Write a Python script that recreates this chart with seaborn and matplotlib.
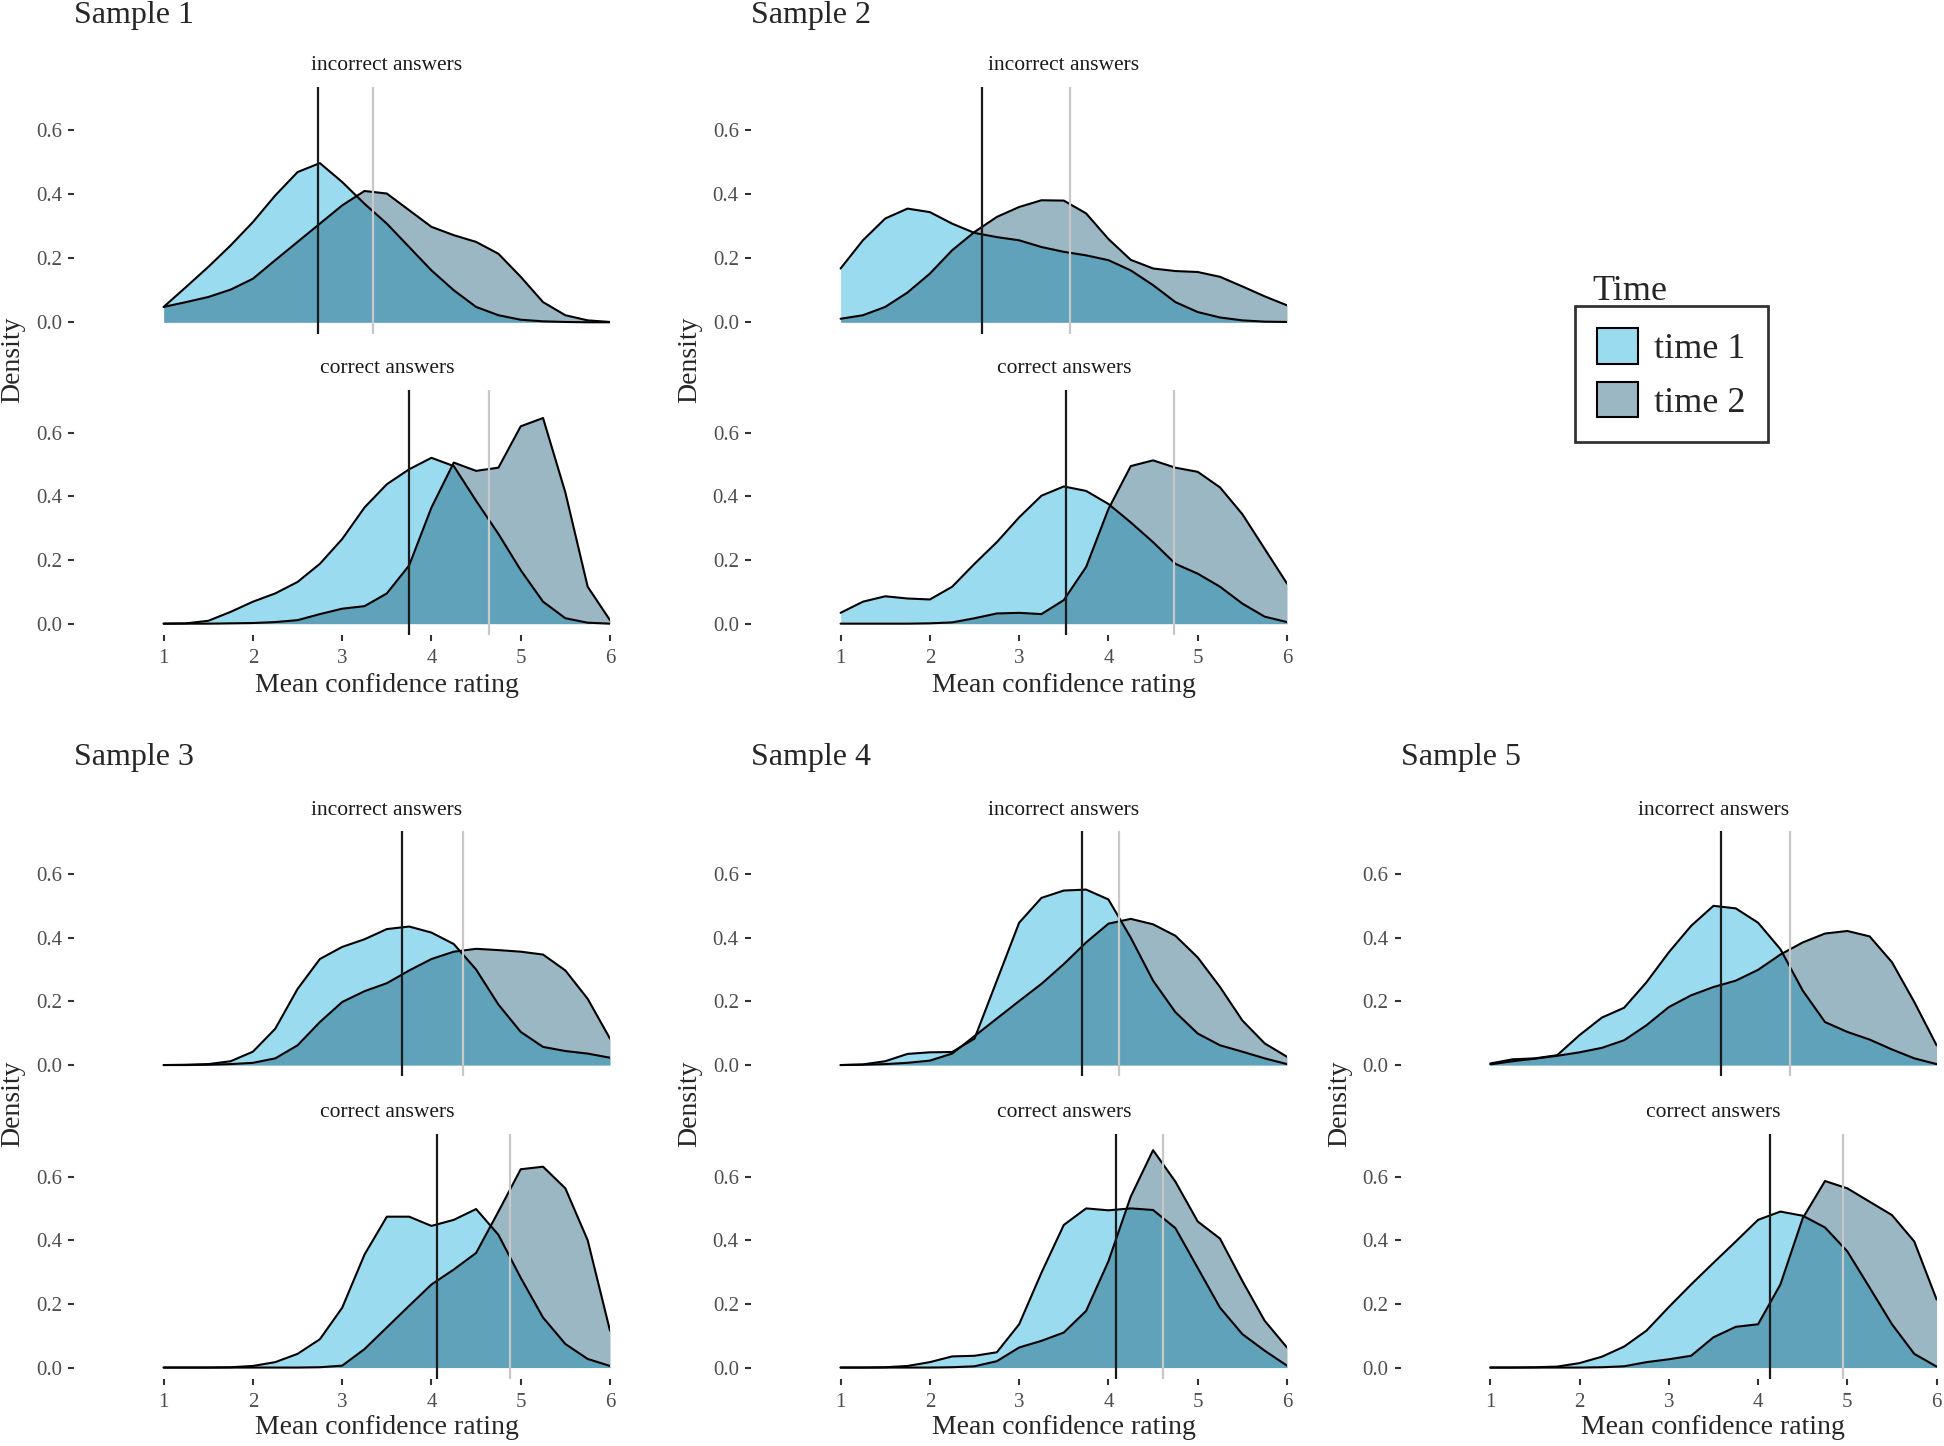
import matplotlib
matplotlib.use("Agg")
import matplotlib.pyplot as plt
import matplotlib.transforms as mtransforms
from matplotlib.patches import Patch
from matplotlib.colors import to_rgba
import seaborn as sns

rating = [1.0, 1.25, 1.5, 1.75, 2.0, 2.25, 2.5, 2.75, 3.0, 3.25, 3.5,
          3.75, 4.0, 4.25, 4.5, 4.75, 5.0, 5.25, 5.5, 5.75, 6.0]

# Sample 1
s1_inc_t1 = [0.048, 0.11, 0.173, 0.24, 0.313, 0.396, 0.469, 0.497, 0.438, 0.37, 0.308,
             0.235, 0.162, 0.10, 0.048, 0.022, 0.008, 0.003, 0.001, 0.0, 0.0]
s1_inc_t2 = [0.048, 0.063, 0.079, 0.102, 0.136, 0.194, 0.251, 0.308, 0.365, 0.41, 0.402,
             0.35, 0.298, 0.272, 0.251, 0.214, 0.142, 0.063, 0.022, 0.006, 0.001]
s1_cor_t1 = [0.0, 0.001, 0.009, 0.037, 0.069, 0.095, 0.131, 0.188, 0.266, 0.365, 0.438,
             0.485, 0.521, 0.495, 0.386, 0.282, 0.168, 0.069, 0.017, 0.003, 0.0]
s1_cor_t2 = [0.0, 0.0, 0.0, 0.001, 0.002, 0.005, 0.011, 0.03, 0.047, 0.055, 0.095,
             0.183, 0.365, 0.506, 0.48, 0.49, 0.62, 0.646, 0.412, 0.116, 0.011]

# Sample 2
s2_inc_t1 = [0.168, 0.256, 0.324, 0.355, 0.344, 0.308, 0.279, 0.266, 0.256, 0.235, 0.22,
             0.209, 0.194, 0.162, 0.116, 0.063, 0.032, 0.015, 0.006, 0.002, 0.001]
s2_inc_t2 = [0.011, 0.022, 0.048, 0.093, 0.152, 0.225, 0.282, 0.329, 0.36, 0.381, 0.38,
             0.34, 0.26, 0.195, 0.168, 0.16, 0.157, 0.142, 0.112, 0.081, 0.053]
s2_cor_t1 = [0.034, 0.069, 0.086, 0.079, 0.076, 0.116, 0.188, 0.256, 0.334, 0.402, 0.431,
             0.417, 0.376, 0.318, 0.256, 0.188, 0.157, 0.116, 0.063, 0.022, 0.005]
s2_cor_t2 = [0.0, 0.0, 0.0, 0.0, 0.001, 0.004, 0.017, 0.032, 0.034, 0.03, 0.074,
             0.178, 0.36, 0.495, 0.513, 0.49, 0.477, 0.428, 0.344, 0.235, 0.126]

# Sample 3
s3_inc_t1 = [0.0, 0.001, 0.003, 0.012, 0.042, 0.114, 0.239, 0.333, 0.371, 0.395, 0.427,
             0.435, 0.416, 0.38, 0.30, 0.19, 0.104, 0.057, 0.044, 0.036, 0.023]
s3_inc_t2 = [0.0, 0.0, 0.001, 0.003, 0.007, 0.021, 0.062, 0.135, 0.198, 0.232, 0.257,
             0.297, 0.333, 0.356, 0.365, 0.361, 0.356, 0.347, 0.297, 0.208, 0.083]
s3_cor_t1 = [0.0, 0.0, 0.0, 0.001, 0.005, 0.017, 0.043, 0.089, 0.188, 0.355, 0.474,
             0.474, 0.445, 0.464, 0.498, 0.417, 0.282, 0.157, 0.074, 0.027, 0.005]
s3_cor_t2 = [0.0, 0.0, 0.0, 0.0, 0.0, 0.0, 0.0, 0.001, 0.006, 0.058, 0.126,
             0.194, 0.261, 0.308, 0.36, 0.49, 0.623, 0.631, 0.563, 0.40, 0.116]

# Sample 4
s4_inc_t1 = [0.0, 0.002, 0.012, 0.035, 0.04, 0.041, 0.083, 0.265, 0.447, 0.525, 0.548,
             0.551, 0.52, 0.4, 0.265, 0.166, 0.099, 0.062, 0.042, 0.021, 0.003]
s4_inc_t2 = [0.0, 0.001, 0.003, 0.007, 0.014, 0.036, 0.091, 0.146, 0.201, 0.255, 0.317,
             0.385, 0.444, 0.459, 0.442, 0.406, 0.338, 0.245, 0.14, 0.068, 0.026]
s4_cor_t1 = [0.0, 0.0, 0.001, 0.005, 0.017, 0.035, 0.037, 0.048, 0.136, 0.298, 0.448,
             0.5, 0.494, 0.5, 0.495, 0.438, 0.313, 0.188, 0.105, 0.053, 0.006]
s4_cor_t2 = [0.0, 0.0, 0.0, 0.0, 0.0, 0.001, 0.004, 0.02, 0.063, 0.084, 0.11,
             0.178, 0.334, 0.537, 0.683, 0.584, 0.459, 0.405, 0.272, 0.147, 0.063]

# Sample 5
s5_inc_t1 = [0.005, 0.018, 0.021, 0.031, 0.094, 0.149, 0.18, 0.26, 0.354, 0.437, 0.5,
             0.492, 0.447, 0.364, 0.234, 0.135, 0.104, 0.08, 0.049, 0.021, 0.003]
s5_inc_t2 = [0.002, 0.012, 0.02, 0.029, 0.04, 0.054, 0.078, 0.125, 0.182, 0.219, 0.245,
             0.265, 0.299, 0.347, 0.385, 0.413, 0.421, 0.404, 0.323, 0.198, 0.062]
s5_cor_t1 = [0.0, 0.0, 0.001, 0.003, 0.014, 0.034, 0.066, 0.116, 0.19, 0.261, 0.329,
             0.396, 0.464, 0.49, 0.477, 0.44, 0.365, 0.251, 0.136, 0.043, 0.003]
s5_cor_t2 = [0.0, 0.0, 0.0, 0.0, 0.0, 0.001, 0.004, 0.017, 0.026, 0.037, 0.095,
             0.128, 0.136, 0.261, 0.469, 0.586, 0.563, 0.521, 0.479, 0.396, 0.214]

# mean lines (time 1 black, time 2 grey)
mean_t1_inc = [2.73, 2.58, 3.67, 3.70, 3.58]
mean_t2_inc = [3.34, 3.57, 4.35, 4.12, 4.36]
mean_t1_cor = [3.75, 3.53, 4.06, 4.08, 4.13]
mean_t2_cor = [4.65, 4.73, 4.88, 4.61, 4.95]

samples = ["Sample 1", "Sample 2", "Sample 3", "Sample 4", "Sample 5"]
panels = ["incorrect answers", "correct answers"]
times = ["time 1", "time 2"]

curves = [
    [(s1_inc_t1, s1_inc_t2), (s1_cor_t1, s1_cor_t2)],
    [(s2_inc_t1, s2_inc_t2), (s2_cor_t1, s2_cor_t2)],
    [(s3_inc_t1, s3_inc_t2), (s3_cor_t1, s3_cor_t2)],
    [(s4_inc_t1, s4_inc_t2), (s4_cor_t1, s4_cor_t2)],
    [(s5_inc_t1, s5_inc_t2), (s5_cor_t1, s5_cor_t2)],
]
means = [
    [(mean_t1_inc[i], mean_t2_inc[i]), (mean_t1_cor[i], mean_t2_cor[i])]
    for i in range(5)
]

c_t1 = "#05A5D9"
c_t2 = "#054D69"
fill_alpha = 0.4

sns.set_theme(style="white")
plt.rcParams['font.family'] = ['Liberation Serif', 'DejaVu Serif']

W, H = 1944, 1446
fig = plt.figure(figsize=(W / 100, H / 100), dpi=100)


def box(left, top, right, bottom):
    return [left / W, 1 - bottom / H, (right - left) / W, (bottom - top) / H]


# pixel layout: left/right of each column, top/bottom of each panel
cols = [(74.4, 610.0), (751.3, 1287.0), (1401.0, 1936.6)]
rows = [[(86.9, 333.5), (389.7, 634.8)], [(831.0, 1076.2), (1133.6, 1378.7)]]
where = [(0, 0), (1, 0), (0, 1), (1, 1), (2, 1)]  # (col, row) for each sample
title_y = [16, 757]
density_x = [13, 690, 1340]
density_y = [359.5, 1103.5]
xlab_y = [686, 1428]

for i, name in enumerate(samples):
    ci, ri = where[i]
    left, right = cols[ci]
    for p, panel in enumerate(panels):
        top, bottom = rows[ri][p]
        ax = fig.add_axes(box(left, top, right, bottom))
        y1, y2 = curves[i][p]
        ax.fill_between(rating, y1, color=c_t1, alpha=fill_alpha, lw=0)
        sns.lineplot(x=rating, y=y1, color="black", lw=1.5, ax=ax)
        ax.fill_between(rating, y2, color=c_t2, alpha=fill_alpha, lw=0)
        sns.lineplot(x=rating, y=y2, color="black", lw=1.5, ax=ax)
        m1, m2 = means[i][p]
        ax.axvline(m1, color="#1a1a1a", lw=1.6)
        ax.axvline(m2, color="#c8c8c8", lw=1.6)

        ax.set_xlim(0, 6)
        ax.set_ylim(-0.035, 0.735)
        ax.set_facecolor("white")
        for s in ax.spines.values():
            s.set_visible(False)
        ax.set_yticks([0, 0.2, 0.4, 0.6])
        ax.set_yticklabels(["0.0", "0.2", "0.4", "0.6"])
        ax.tick_params(axis="y", left=True, length=4, width=1.5, color="#333333",
                       labelcolor="#4D4D4D", labelsize=15, pad=5)
        if p == 1:
            ax.set_xticks([1, 2, 3, 4, 5, 6])
            ax.tick_params(axis="x", bottom=True, length=4, width=1.5, color="#333333",
                           labelcolor="#4D4D4D", labelsize=15, pad=6)
        else:
            ax.set_xticks([])
        ax.set_xlabel("")
        ax.set_ylabel("")
        trans = mtransforms.blended_transform_factory(ax.transData, ax.transAxes)
        ax.text(3.5, 1.085, panel, transform=trans, ha="center", va="center",
                fontsize=15.5, color="#1a1a1a")

    fig.text(left / W, 1 - title_y[ri] / H, name, fontsize=23, ha="left", va="center")
    fig.text(density_x[ci] / W, 1 - density_y[ri] / H, "Density", fontsize=20,
             rotation=90, ha="center", va="center")
    x_mid = left + (right - left) * 3.5 / 6
    fig.text(x_mid / W, 1 - xlab_y[ri] / H, "Mean confidence rating", fontsize=20,
             ha="center", va="center")

# legend
handles = [Patch(facecolor=to_rgba(c, fill_alpha), edgecolor="black", lw=1.5, label=t)
           for c, t in zip([c_t1, c_t2], times)]
leg = fig.legend(handles=handles, loc="upper left", bbox_to_anchor=(1574.5 / W, 1 - 306 / H),
                 frameon=True, fancybox=False, edgecolor="black", fontsize=26,
                 handlelength=1.14, handleheight=1.14, borderpad=0.62, labelspacing=0.42,
                 handletextpad=0.45, borderaxespad=0)
leg.get_frame().set_linewidth(2)
fig.text(1592 / W, 1 - 291 / H, "Time", fontsize=26, ha="left", va="center")

fig.savefig("out.png", dpi=100, facecolor="white")
